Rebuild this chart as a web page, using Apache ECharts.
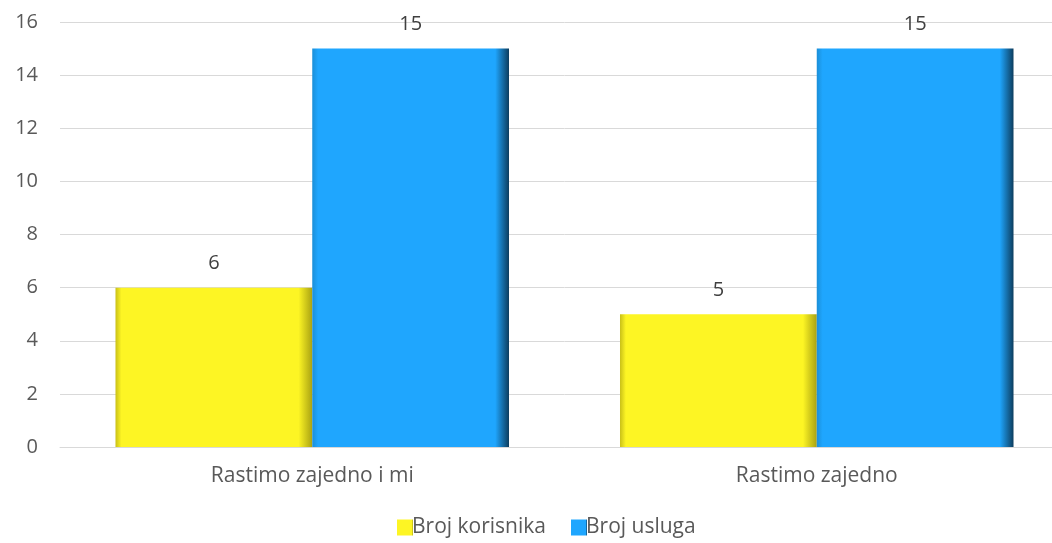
<!DOCTYPE html>
<html lang="hr">
<head>
	<meta charset="UTF-8">
	<title>Broj korisnika i usluga</title>
	<script src="https://cdn.jsdelivr.net/npm/echarts@6/dist/echarts.min.js"></script>
	<style>
		html, body { margin: 0; padding: 0; background: #fff; overflow: hidden; }
		#chart { width: 1069px; height: 543px; }
	</style>
</head>
<body>
<div id="chart"></div>
<script>
	var categories = ['Rastimo zajedno i mi', 'Rastimo zajedno'];
	var korisnici = [6, 5];
	var usluge = [15, 15];
	var yTicks = [0, 16, 2]; // min, max, interval

	// bevel-ish look: darker edges left and right
	function bevel(edgeL, mid, edgeR) {
		return new echarts.graphic.LinearGradient(0, 0, 1, 0, [
			{offset: 0, color: edgeL},
			{offset: 0.03, color: mid},
			{offset: 0.93, color: mid},
			{offset: 1, color: edgeR}
		]);
	}

	var chart = echarts.init(document.getElementById('chart'));
	var txt = '#404040';

	chart.setOption({
		animation: false,
		textStyle: {fontFamily: 'Open Sans'},
		grid: {left: 60, top: 22, right: 0, bottom: 96, containLabel: false},
		legend: {
			bottom: 0,
			left: 392,
			itemWidth: 16,
			itemHeight: 16,
			itemGap: 25,
			icon: 'rect',
			textStyle: {color: '#595959', fontSize: 21, fontFamily: 'Open Sans', padding: [0, 0, 0, -6]},
			data: ['Broj korisnika', 'Broj usluga']
		},
		xAxis: {
			type: 'category',
			data: categories,
			axisLine: {lineStyle: {color: '#d9d9d9'}},
			axisTick: {show: false},
			axisLabel: {color: '#595959', fontSize: 21, margin: 19}
		},
		yAxis: {
			type: 'value',
			min: yTicks[0],
			max: yTicks[1],
			interval: yTicks[2],
			axisLabel: {color: '#595959', fontSize: 20, margin: 22},
			splitLine: {lineStyle: {color: '#d9d9d9', width: 1}}
		},
		series: [
			{
				name: 'Broj korisnika',
				type: 'bar',
				data: korisnici,
				barGap: '0%',
				barCategoryGap: '22%',
				itemStyle: {color: bevel('#c9c018', '#fdf524', '#a9a212')},
				label: {show: true, position: 'top', distance: 14, color: txt, fontSize: 20}
			},
			{
				name: 'Broj usluga',
				type: 'bar',
				data: usluge,
				itemStyle: {color: bevel('#1b8fd8', '#1fa6fe', '#0d3d5e')},
				label: {show: true, position: 'top', distance: 14, color: txt, fontSize: 20}
			}
		]
	});
</script>
</body>
</html>
